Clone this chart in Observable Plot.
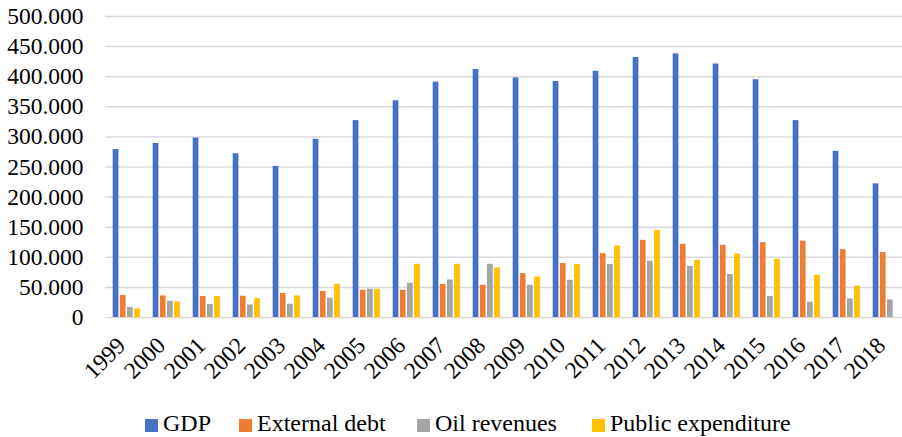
<!DOCTYPE html>
<html>
<head>
<meta charset="utf-8">
<script src="https://cdn.jsdelivr.net/npm/d3@7"></script>
<script src="https://cdn.jsdelivr.net/npm/@observablehq/plot@0.6"></script>
<style>
  html, body { margin: 0; padding: 0; background: #fff; }
  #wrap { position: relative; width: 902px; height: 437px; overflow: hidden; }
  .leg { position: absolute; top: 408px; font-family: 'Liberation Serif'; font-size: 24px; color: #000; white-space: nowrap; line-height: 30px; }
  .leg i { display: inline-block; width: 13px; height: 13px; vertical-align: -1px; margin-right: 5px; }
</style>
</head>
<body>
<div id="wrap"></div>
<script>
const years = ["1999","2000","2001","2002","2003","2004","2005","2006","2007","2008","2009","2010","2011","2012","2013","2014","2015","2016","2017","2018"];
const seriesNames = ["GDP", "External debt", "Oil revenues", "Public expenditure"];
const seriesColors = ["#4472C4", "#ED7D31", "#A5A5A5", "#FFC000"];
const gdp = [279000,289000,298000,272000,251000,296000,327000,360000,391000,412000,398000,392000,409000,432000,438000,421000,395000,327000,276000,222000];
const externalDebt = [36500,35800,34800,35300,39800,43100,45300,45300,54700,53500,72900,89500,106100,128200,121500,119900,124300,127000,112700,107800];
const oilRevenues = [16600,27000,21500,20900,22000,32000,46900,56900,62300,88400,53500,61800,87900,93300,85000,71300,34800,25400,30800,29200];
const publicExpenditure = [14300,25900,34800,31500,35800,55200,46900,88400,88400,82200,67300,87900,118700,144700,95000,105400,96600,70100,51900,null];
const yTicks = [0,50000,100000,150000,200000,250000,300000,350000,400000,450000,500000];

const allSeries = [gdp, externalDebt, oilRevenues, publicExpenditure];
const fmt = d3.formatLocale({decimal: ",", thousands: ".", grouping: [3], currency: ["", ""]}).format(",");

const band = 40.08, offset = 6.7, pitch = 7.15, barW = 5.8;
const barMarks = allSeries.map((vals, i) => {
  const rows = years.map((y, j) => ({year: y, value: vals[j], series: seriesNames[i]}))
    .filter(r => r.value != null);
  const left = offset + i * pitch;
  return Plot.barY(rows, {
    x: "year", y: "value", fill: seriesColors[i],
    insetLeft: left, insetRight: band - left - barW
  });
});

const chart = Plot.plot({
  width: 902,
  height: 395,
  marginLeft: 105,
  marginRight: 0,
  marginTop: 16,
  marginBottom: 78,
  style: {fontFamily: "Liberation Serif", fontSize: "23.5px", color: "#000", background: "#fff"},
  x: {domain: years, range: [105, 105 + band * 20], padding: 0},
  y: {domain: [0, 500000]},
  marks: [
    Plot.gridY(yTicks, {stroke: "#d9d9d9", strokeWidth: 1.5, strokeOpacity: 1}),
    ...barMarks,
    Plot.axisY(yTicks, {tickSize: 0, tickPadding: 22, tickFormat: fmt, fontSize: 23.5, fontFamily: "Liberation Serif", label: null}),
    Plot.axisX({tickSize: 0, tickPadding: 24, dx: -5, tickRotate: -45, fontSize: 23.5, fontFamily: "Liberation Serif", label: null})
  ]
});
const wrap = document.getElementById("wrap");
wrap.appendChild(chart);

const legendX = [145, 239, 417, 592];
seriesNames.forEach((name, i) => {
  const d = document.createElement("div");
  d.className = "leg";
  d.style.left = legendX[i] + "px";
  const sw = document.createElement("i");
  sw.style.background = seriesColors[i];
  d.appendChild(sw);
  d.appendChild(document.createTextNode(name));
  wrap.appendChild(d);
});
</script>
</body>
</html>
